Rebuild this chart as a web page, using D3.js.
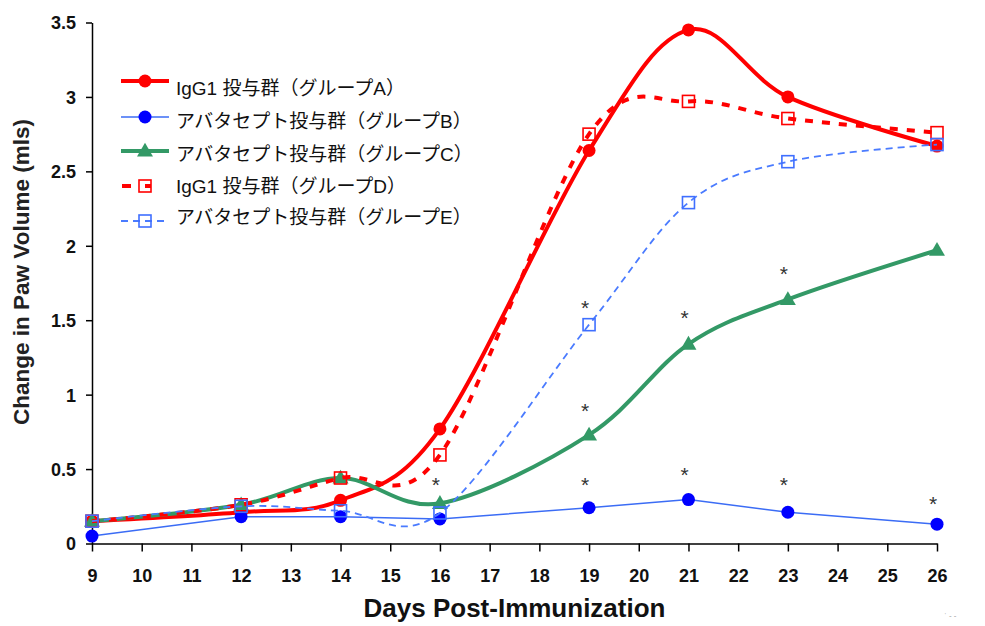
<!DOCTYPE html>
<html>
<head>
<meta charset="utf-8">
<script src="https://cdn.jsdelivr.net/npm/d3@7"></script>
<style>
  body { margin: 0; background: #fff; }
  svg { display: block; font-family: "Liberation Sans", Arial, "Noto Sans CJK JP", sans-serif; }
</style>
</head>
<body>
<div id="app"></div>
<script>
// データ
const days = [9, 12, 14, 16, 19, 21, 23, 26]
const groupA = [0.15, 0.21, 0.29, 0.77, 2.64, 3.45, 3.00, 2.67]
const groupB = [0.05, 0.18, 0.18, 0.165, 0.24, 0.295, 0.21, 0.13]
const groupC = [0.15, 0.26, 0.44, 0.27, 0.73, 1.34, 1.64, 1.97]
const groupD = [0.15, 0.26, 0.44, 0.595, 2.75, 2.97, 2.855, 2.76]
const groupE = [0.15, 0.25, 0.22, 0.205, 1.47, 2.29, 2.565, 2.68]
const seriesNames = [
  'IgG1 投与群（グループA）',
  'アバタセプト投与群（グループB）',
  'アバタセプト投与群（グループC）',
  'IgG1 投与群（グループD）',
  'アバタセプト投与群（グループE）',
]
const xTicks = d3.range(9, 27)
const yTicks = [0, 0.5, 1, 1.5, 2, 2.5, 3, 3.5]
// 有意差マーク
const starDays = [16, 19, 19, 19, 21, 21, 23, 23, 26]
const starValues = [0.42, 1.61, 0.92, 0.42, 1.54, 0.49, 1.84, 0.42, 0.29]

const width = 985
const height = 626
const margin = { top: 22.5, right: 48, bottom: 82.5, left: 92 }

const styles = [
  { color: '#ff0000', width: 4, dash: null, marker: 'circle', mColor: '#ff0000', curve: true },
  { color: '#3b6cf5', width: 1.5, dash: null, marker: 'circle', mColor: '#0000ff', curve: false },
  { color: '#339966', width: 4, dash: null, marker: 'triangle', mColor: '#339966', curve: true },
  { color: '#ff0000', width: 4, dash: '8,9', marker: 'square', mColor: '#ff0000', curve: true },
  { color: '#4a7bff', width: 1.8, dash: '7,5', marker: 'square', mColor: '#3f6fff', curve: true },
]
const series = [groupA, groupB, groupC, groupD, groupE]

const svg = d3.select('#app')
  .append('svg')
  .attr('width', width)
  .attr('height', height)

const x = d3.scaleLinear()
  .domain([9, 26])
  .range([margin.left, width - margin.right])
const y = d3.scaleLinear()
  .domain([0, 3.5])
  .range([height - margin.bottom, margin.top])

// 軸
const xAxis = d3.axisBottom(x)
  .tickValues(xTicks)
  .tickFormat(d => d)
  .tickSize(8)
  .tickSizeOuter(0)
  .tickPadding(18)
const yAxis = d3.axisLeft(y)
  .tickValues(yTicks)
  .tickFormat(d => d)
  .tickSize(6)
  .tickSizeOuter(0)
  .tickPadding(10)

const gx = svg.append('g')
  .attr('transform', `translate(0, ${height - margin.bottom})`)
  .call(xAxis)
const gy = svg.append('g')
  .attr('transform', `translate(${margin.left}, 0)`)
  .call(yAxis)
;[gx, gy].forEach(g => {
  g.select('.domain').attr('stroke', '#000').attr('stroke-width', 1.5)
  g.selectAll('.tick line').attr('stroke', '#000').attr('stroke-width', 1.5)
  g.selectAll('.tick text')
    .attr('fill', '#111')
    .attr('font-weight', 'bold')
    .attr('font-family', '"Liberation Sans", Arial, sans-serif')
})
gx.selectAll('.tick text').attr('font-size', 18)
gy.selectAll('.tick text').attr('font-size', 18).attr('dy', '0.36em')

// 軸タイトル
svg.append('text')
  .attr('x', (x(9) + x(26)) / 2)
  .attr('y', 617)
  .attr('text-anchor', 'middle')
  .attr('font-size', 26)
  .attr('font-weight', 'bold')
  .attr('fill', '#111')
  .text('Days Post-Immunization')
svg.append('text')
  .attr('transform', `translate(29, 272) rotate(-90)`)
  .attr('text-anchor', 'middle')
  .attr('font-size', 22.5)
  .attr('font-weight', 'bold')
  .attr('fill', '#222')
  .text('Change in Paw Volume (mls)')

// 線
const lineSmooth = d3.line()
  .x((d, i) => x(days[i]))
  .y(d => y(d))
  .curve(d3.curveCardinal.tension(0))
const lineStraight = d3.line()
  .x((d, i) => x(days[i]))
  .y(d => y(d))

const triangle = d3.symbol().type(d3.symbolTriangle).size(110)

function drawMarker(g, type, cx, cy, st) {
  if (type === 'circle') {
    g.append('circle')
      .attr('cx', cx).attr('cy', cy).attr('r', 6.5)
      .attr('fill', st.mColor)
  } else if (type === 'triangle') {
    g.append('path')
      .attr('d', triangle())
      .attr('transform', `translate(${cx}, ${cy + 1})`)
      .attr('fill', st.mColor)
  } else {
    g.append('rect')
      .attr('x', cx - 6).attr('y', cy - 6)
      .attr('width', 12).attr('height', 12)
      .attr('fill', 'none')
      .attr('stroke', st.mColor)
      .attr('stroke-width', 1.6)
  }
}

series.forEach((data, k) => {
  const st = styles[k]
  const g = svg.append('g')
  g.append('path')
    .attr('d', (st.curve ? lineSmooth : lineStraight)(data))
    .attr('fill', 'none')
    .attr('stroke', st.color)
    .attr('stroke-width', st.width)
    .attr('stroke-dasharray', st.dash)
  data.forEach((d, i) => drawMarker(g, st.marker, x(days[i]), y(d), st))
})

// アスタリスク
svg.append('g')
  .selectAll('text')
  .data(starDays)
  .enter()
  .append('text')
  .attr('x', d => x(d) - 4)
  .attr('y', (d, i) => y(starValues[i]) + 11)
  .attr('text-anchor', 'middle')
  .attr('font-size', 21)
  .attr('fill', '#333')
  .text('*')

// 凡例
const legend = svg.append('g')
const legendRows = [81, 117, 151, 186, 221]
const textRows = [88, 121, 154, 186, 217]
styles.forEach((st, k) => {
  const ly = legendRows[k]
  const row = legend.append('g')
  if (k === 3) {
    row.append('line')
      .attr('x1', 122).attr('x2', 131).attr('y1', ly).attr('y2', ly)
      .attr('stroke', st.color).attr('stroke-width', st.width)
    row.append('line')
      .attr('x1', 145).attr('x2', 151).attr('y1', ly).attr('y2', ly)
      .attr('stroke', st.color).attr('stroke-width', st.width)
    drawMarker(row, st.marker, 145, ly, st)
  } else {
    row.append('line')
      .attr('x1', 121).attr('x2', 169).attr('y1', ly).attr('y2', ly)
      .attr('stroke', st.color)
      .attr('stroke-width', st.width)
      .attr('stroke-dasharray', st.dash)
    drawMarker(row, st.marker, 145, ly, st)
  }
  row.append('text')
    .attr('x', 176)
    .attr('y', textRows[k])
    .attr('dy', '0.35em')
    .attr('font-size', 19)
    .attr('fill', '#111')
    .text(seriesNames[k])
})

// 右下の小さなマーク
svg.append('text')
  .attr('x', 944).attr('y', 618)
  .attr('font-size', 8).attr('fill', '#999')
  .text('ˈ    - -')
</script>
</body>
</html>
